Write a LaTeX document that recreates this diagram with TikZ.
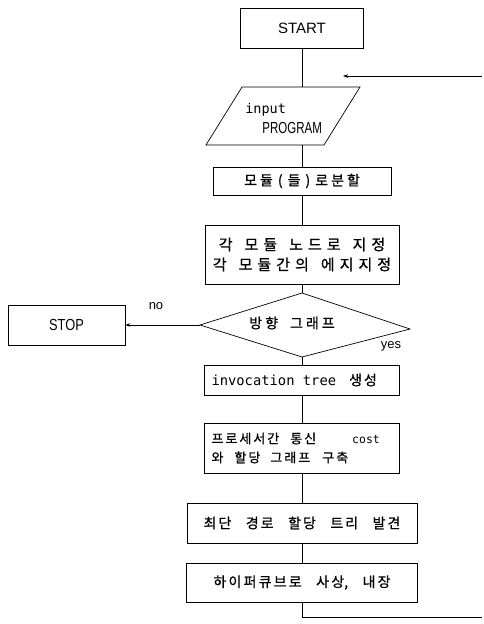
\documentclass[tikz,border=0pt]{standalone}
\usepackage{graphicx}
\usepackage{fontspec}
\setmainfont{Liberation Sans}
\newfontfamily\kr{Noto Sans CJK KR}[FakeBold=0.8]
\newfontfamily\mono{DejaVu Sans Mono}
\usetikzlibrary{arrows.meta}
% extra gap between consecutive Hangul syllables
\newdimen\hgap \hgap=2pt
\XeTeXinterchartokenstate=1
\newXeTeXintercharclass\hangulclass
\newcount\hcnt \hcnt="AC00
\loop
  \XeTeXcharclass\hcnt=\hangulclass
  \advance\hcnt by 1
\ifnum\hcnt<"D7A4 \repeat
\XeTeXinterchartoks\hangulclass\hangulclass={\kern\hgap}
\newcommand\krset[4]{\kr\fontsize{#1}{#2}\selectfont\hgap=#3\relax\spaceskip=#4\relax}
\newcommand\monoset[1]{\mono\fontsize{#1}{#1}\selectfont\spaceskip=0pt\relax}
\begin{document}
\begin{tikzpicture}[x=1pt,y=-1pt,line width=0.7pt,
  box/.style={draw,inner xsep=7pt,inner ysep=0pt},
  arr/.style={-{Stealth[length=5pt,width=3.5pt]}},
  lbl/.style={font=\fontsize{13}{15}\selectfont,inner sep=0pt}]
\useasboundingbox (0,0) rectangle (484,624);

% START
\node[box,minimum width=123pt,minimum height=40pt,font=\fontsize{15}{18}\selectfont] (start) at (302,28) {START};

% input parallelogram
\coordinate (pA) at (206,145);
\coordinate (pB) at (324,145);
\coordinate (pC) at (360,87);
\coordinate (pD) at (242,87);
\draw (pA) -- (pB) -- (pC) -- (pD) -- cycle;
\node[anchor=base west,inner sep=0pt,font=\monoset{13.5}] (tin) at (245,113) {input};
\node[anchor=base west,inner sep=0pt,font=\fontsize{16}{18}\selectfont] (tprog) at (262,133) {\scalebox{0.72}[1]{PROGRAM}};

% boxes
\node[box,minimum width=178pt,minimum height=28pt,font={\krset{14}{19}{3pt}{11pt}}] (split) at (302,181) {모듈\hspace{5pt}(\hspace{5pt}들\hspace{5pt})\hspace{5pt}로분할};
\node[box,minimum width=194pt,minimum height=59pt,align=center,font={\krset{15}{20}{5pt}{12pt}}] (assign) at (302,254.5) {각 모듈 노드로 지정\\각 모듈간의 에지지정};

% decision
\coordinate (dT) at (302,293);
\coordinate (dR) at (410,329);
\coordinate (dB) at (302,357);
\coordinate (dL) at (200,325);
\draw (dT) -- (dR) -- (dB) -- (dL) -- cycle;
\node[inner sep=0pt,font={\krset{14}{19}{3pt}{12pt}}] (dtext) at (292,323) {방향 그래프};

\node[box,minimum width=117pt,minimum height=40pt,font=\fontsize{16}{18}\selectfont] (stop) at (66.5,325) {\scalebox{0.8}[1]{STOP}};
\draw[arr] (dL) -- (stop.east);
\node[lbl] (no) at (156,306) {no};
\node[lbl] (yes) at (391,346) {yes};

\node[box,minimum height=30pt,text width=181pt,align=left,font={\krset{14}{19}{2pt}{11pt}}] (inv) at (302,380) {{\monoset{13.8}invocation tree}\hspace{13pt}생성};
\node[box,minimum height=50pt,text width=181pt,align=left,font={\krset{13}{19}{2pt}{11pt}}] (cost) at (302,448) {프로세서간\hspace{11pt}통신\hspace{36pt}{\monoset{11.5}cost}\\와\hspace{11pt}할당\hspace{10pt}그래프\hspace{12pt}구축};
\node[box,minimum width=230pt,minimum height=40pt,font={\krset{14}{19}{2pt}{14.5pt}}] (path) at (302,523) {최단 경로 할당 트리 발견};
\node[box,minimum width=231pt,minimum height=39pt,font={\krset{14}{19}{2.2pt}{14.5pt}}] (map) at (302,582.5) {하이퍼큐브로 사상, 내장};

% connectors
\draw (start.south) -- (start.south |- pD);
\draw (start.south |- pA) -- (split.north);
\draw (split.south) -- (assign.north);
\draw (assign.south) -- (dT);
\draw (dB) -- (inv.north);
\draw (inv.south) -- (cost.north);
\draw (cost.south) -- (path.north);
\draw (path.south) -- (map.north);
\coordinate (loopC) at (302,617);
\coordinate (loopR) at (482,617);
\draw (map.south) -- (loopC) -- (loopR);
\coordinate (topR) at (482,76);
\coordinate (topL) at (343,76);
\draw[arr] (topR) -- (topL);
\end{tikzpicture}
\end{document}
